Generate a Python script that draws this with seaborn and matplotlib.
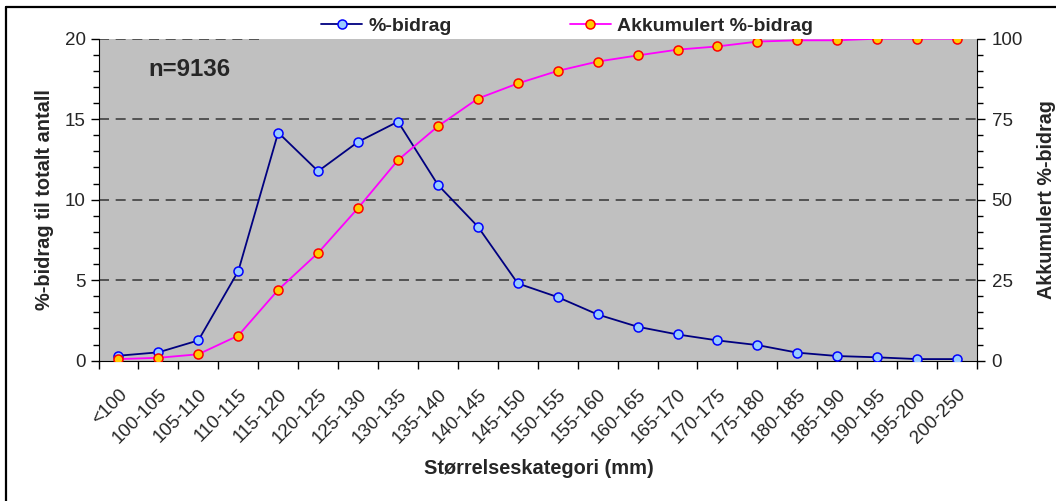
import numpy as np
import pandas as pd
import seaborn as sns
import matplotlib
matplotlib.use("Agg")
import matplotlib.pyplot as plt
import matplotlib.transforms as mtransforms
from matplotlib.lines import Line2D
from matplotlib.ticker import MultipleLocator, FixedLocator

categories = ["<100", "100-105", "105-110", "110-115", "115-120", "120-125", "125-130",
              "130-135", "135-140", "140-145", "145-150", "150-155", "155-160", "160-165",
              "165-170", "170-175", "175-180", "180-185", "185-190", "190-195", "195-200",
              "200-250"]
bidrag = [0.31, 0.52, 1.26, 5.56, 14.17, 11.77, 13.59, 14.85, 10.92, 8.33, 4.80,
          3.95, 2.87, 2.11, 1.63, 1.26, 0.97, 0.50, 0.29, 0.21, 0.10, 0.10]
akkumulert = [0.5, 0.9, 2.0, 7.8, 22.0, 33.5, 47.4, 62.3, 72.8, 81.4, 86.1,
              90.0, 92.9, 94.8, 96.6, 97.6, 99.1, 99.5, 99.5, 100.0, 100.0, 100.0]

df = pd.DataFrame({"idx": np.arange(len(categories)), "kat": categories,
                   "bidrag": bidrag, "akk": akkumulert})

sns.set_style("white")
plt.rcParams["font.family"] = ["Liberation Sans", "DejaVu Sans"]

W, H = 1056, 501
L, R, T, B = 98.5, 977.0, 38.7, 360.7
fig = plt.figure(figsize=(W / 100, H / 100), dpi=100)
ax = fig.add_axes([L / W, 1 - B / H, (R - L) / W, (B - T) / H])
ax.set_facecolor("#C0C0C0")
ax2 = ax.twinx()

mk1 = dict(marker="o", markersize=6.5, markerfacecolor="#99CCFF",
           markeredgecolor="#0000FF", markeredgewidth=1.1)
mk2 = dict(marker="o", markersize=6.5, markerfacecolor="#FFCC00",
           markeredgecolor="#FF0000", markeredgewidth=1.1)

sns.lineplot(data=df, x="idx", y="bidrag", ax=ax, color="#000080", lw=1.3,
             zorder=4, **mk1)
sns.lineplot(data=df, x="idx", y="akk", ax=ax2, color="#FF00FF", lw=1.3,
             zorder=4, **mk2)

n = len(categories)
for a in (ax, ax2):
    a.set_xlim(-0.5, n - 0.5)
    a.spines["top"].set_visible(False)
ax.spines["right"].set_visible(False)
ax.spines["left"].set_color("black")
ax.spines["bottom"].set_color("black")
ax2.spines["left"].set_visible(False)
ax2.spines["bottom"].set_visible(False)
ax2.spines["right"].set_color("black")

ax.set_ylim(0, 20)
ax2.set_ylim(0, 100)
ax.yaxis.set_major_locator(MultipleLocator(5))
ax.yaxis.set_minor_locator(MultipleLocator(1))
ax2.yaxis.set_major_locator(MultipleLocator(25))
ax2.yaxis.set_minor_locator(MultipleLocator(5))

ax.set_xticks(np.arange(n))
ax.set_xticklabels(categories, rotation=45, ha="right", va="top",
                   rotation_mode="anchor", fontsize=13.5)
shift = mtransforms.ScaledTranslation(-6 / 100, 0, fig.dpi_scale_trans)
for lab in ax.get_xticklabels():
    lab.set_transform(lab.get_transform() + shift)
ax.xaxis.set_minor_locator(FixedLocator(np.arange(n + 1) - 0.5))
ax.tick_params(axis="x", which="major", length=0, pad=18)
ax.tick_params(axis="x", which="minor", length=6, width=1, direction="out",
               color="black", bottom=True)
ax.tick_params(axis="y", which="major", length=6, width=1, direction="out",
               color="black", labelsize=13.5, pad=3, left=True)
ax.tick_params(axis="y", which="minor", length=4, width=1, direction="out",
               color="black", left=True)
ax2.tick_params(axis="y", which="major", length=6, width=1, direction="out",
                color="black", labelsize=13.5, pad=4.5, right=True)
ax2.tick_params(axis="y", which="minor", length=4, width=1, direction="out",
                color="black", right=True)

for v in (5, 10, 15):
    ax.axhline(v, color="#404040", lw=1.2, ls=(0, (6, 4)), zorder=1)
ax.axhline(20, xmin=0, xmax=(260 - L) / (R - L), color="#404040", lw=1.2,
           ls=(0, (6, 4)), zorder=1)

ax.set_xlabel("Størrelseskategori (mm)", fontsize=14.4, fontweight="bold")
ax.set_ylabel("%-bidrag til totalt antall", fontsize=14.4, fontweight="bold", labelpad=8)
ax2.set_ylabel("Akkumulert %-bidrag", fontsize=14.2, fontweight="bold", labelpad=10)
ax.xaxis.set_label_coords((538.5 - L) / (R - L), -(459 - B) / (B - T))

ax.text((148 - L) / (R - L), 1 - (69 - T) / (B - T), "n=9136", transform=ax.transAxes,
        fontsize=17.3, fontweight="bold", ha="left", va="center")

h1 = Line2D([], [], color="#000080", lw=1.3, **mk1)
h2 = Line2D([], [], color="#FF00FF", lw=1.3, **mk2)
fig.legend([h1, h2], ["%-bidrag", "Akkumulert %-bidrag"], ncol=2, loc="center",
           bbox_to_anchor=(567 / W, 1 - 26 / H), frameon=False,
           prop={"weight": "bold", "size": 14}, handlelength=2.1,
           handletextpad=0.3, columnspacing=6.1, borderpad=0.1)

fig.add_artist(Line2D([6 / W, 1], [1 - 6.5 / H, 1 - 6.5 / H], color="black",
                      lw=1.6, transform=fig.transFigure))
fig.add_artist(Line2D([6 / W, 6 / W], [0, 1 - 6.5 / H], color="black",
                      lw=1.6, transform=fig.transFigure))

fig.savefig("out.png", dpi=100)
